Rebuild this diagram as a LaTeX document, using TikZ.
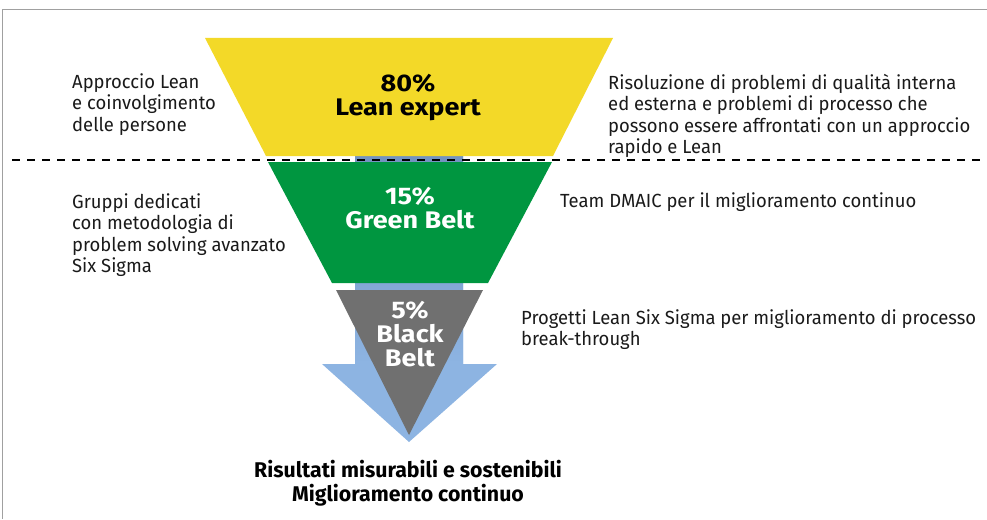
\documentclass[tikz,border=0pt]{standalone}
\usepackage{fontspec}
\setmainfont{Fira Sans}
\newfontfamily\bodyfont[FakeStretch=0.97]{Fira Sans}
\newfontfamily\levelfont[FakeStretch=1.126]{Fira Sans Bold}
\definecolor{funyellow}{HTML}{F3D928}
\definecolor{fungreen}{HTML}{009640}
\definecolor{fungray}{HTML}{707070}
\definecolor{arrblue}{HTML}{8DB4E2}
\definecolor{arrdark}{HTML}{7393C0}
\definecolor{framegray}{HTML}{A0A0A0}
\definecolor{txt}{HTML}{1A1A1A}
\tikzset{
  side/.style={inner sep=0pt, align=left, text=txt, font=\bodyfont\fontsize{19}{21.5}\selectfont},
  level/.style={inner sep=0pt, align=center, font=\levelfont\fontsize{24}{24}\selectfont},
  result/.style={inner sep=0pt, align=center, text=black, font=\bfseries\fontsize{21.3}{24}\selectfont},
  sepline/.style={black, line width=1.2pt, dash pattern=on 8pt off 7pt}
}
\begin{document}
\begin{tikzpicture}[x=1pt,y=-1pt]
\useasboundingbox (0,0) rectangle (987,519);
% frame
\draw[framegray, line width=1.2pt] (2.5,519) -- (2.5,9.5) -- (987,9.5);
% blue arrow
\fill[arrblue] (355,156) -- (463,156) -- (463,364) -- (497,364) -- (409,442) -- (322,364) -- (355,364) -- cycle;
\shade[top color=arrdark, bottom color=arrblue] (355,156) rectangle (463,364);
% funnel
\fill[funyellow] (205,38) -- (613,38) -- (553,156) -- (266,156) -- cycle;
\fill[fungreen] (268,162) -- (552,162) -- (488,283) -- (332,283) -- cycle;
\fill[fungray] (336,290) -- (483,290) -- (409,435) -- cycle;
% dashed separator
\coordinate (dl) at (12,160);
\coordinate (dr) at (980,160);
\draw[sepline] (dl) -- (dr);
% level labels
\node[level, text=black] (lean) at (408,98) {80\%\\Lean expert};
\node[level, text=white] (green) at (410,208) {15\%\\Green Belt};
\node[level, text=white] (black) at (410,334) {5\%\\Black\\Belt};
% side texts
\node[side, anchor=north west] (tl) at (72,73) {Approccio Lean\\e coinvolgimento\\delle persone};
\node[side, anchor=north west] (tr) at (608,74) {Risoluzione di problemi di qualità interna\\ed esterna e problemi di processo che\\possono essere affrontati con un approccio\\rapido e Lean};
\node[side, anchor=north west] (ml) at (72,193) {Gruppi dedicati\\con metodologia di\\problem solving avanzato\\Six Sigma};
\node[side, anchor=north west] (mr) at (560,192) {Team DMAIC per il miglioramento continuo};
\node[side, anchor=north west] (br) at (521,309) {Progetti Lean Six Sigma per miglioramento di processo\\break-through};
% result
\node[result] (res) at (408,483) {Risultati misurabili e sostenibili\\Miglioramento continuo};
\end{tikzpicture}
\end{document}
